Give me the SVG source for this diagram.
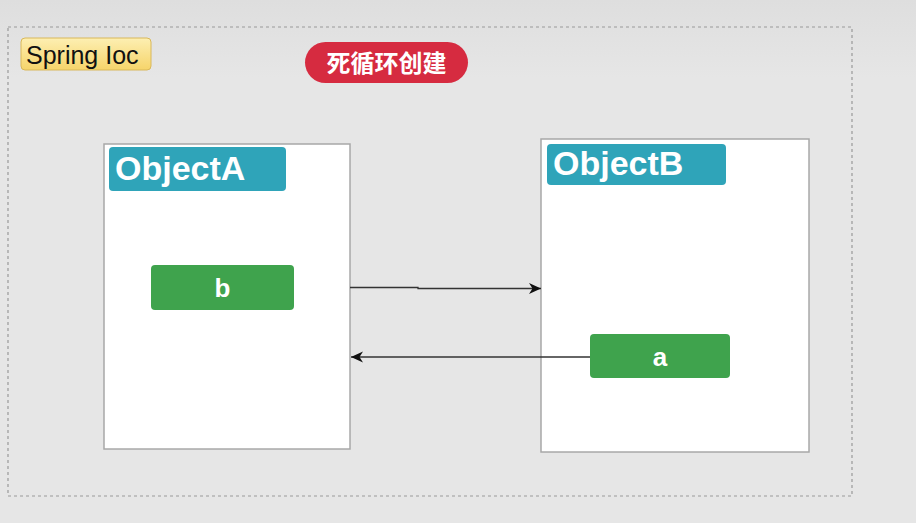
<svg xmlns="http://www.w3.org/2000/svg" width="916" height="523" viewBox="0 0 916 523">
<defs>
<linearGradient id="bg" x1="0" y1="0" x2="0" y2="1">
<stop offset="0" stop-color="#dedede"/>
<stop offset="0.15" stop-color="#e6e6e6"/>
<stop offset="1" stop-color="#e6e6e6"/>
</linearGradient>
<linearGradient id="yel" x1="0" y1="0" x2="0" y2="1">
<stop offset="0" stop-color="#fdefb2"/>
<stop offset="1" stop-color="#f6d46a"/>
</linearGradient>
<marker id="arr" viewBox="0 0 12 12" refX="12" refY="6" markerWidth="12" markerHeight="12" markerUnits="userSpaceOnUse" orient="auto">
<path d="M0,0.5 L12,6 L0,11.5 L3.5,6 Z" fill="#111"/>
</marker>
<style>
.obj{fill:#ffffff;stroke:#a8a8a8;stroke-width:1.5}
.hdr{fill:#2fa4b9}
.hdrt{font-family:"Liberation Sans",Arial,sans-serif;font-weight:bold;font-size:34px;fill:#ffffff}
.fld{fill:#3fa34d}
.fldt{font-family:"Liberation Sans",Arial,sans-serif;font-weight:bold;font-size:26px;fill:#ffffff;text-anchor:middle}
.conn{stroke:#333333;stroke-width:1.3;fill:none}
</style>
</defs>
<rect x="0" y="0" width="916" height="523" fill="url(#bg)"/>
<g id="container">
<rect x="8" y="27" width="844" height="469" fill="none" stroke="#999999" stroke-width="1.2" stroke-dasharray="3,3"/>
</g>
<g id="spring-ioc">
<rect x="21" y="38" width="130" height="32" rx="4" fill="url(#yel)" stroke="#d9b85a" stroke-width="1"/>
<text x="26" y="64" font-family="'Liberation Sans',Arial,sans-serif" font-size="25" fill="#111111">Spring Ioc</text>
</g>
<g id="title">
<rect x="305" y="42" width="163" height="41" rx="20.5" fill="#d62b40"/>
<text x="386.5" y="72" font-family="'Noto Sans CJK SC',sans-serif" font-weight="bold" font-size="24" fill="#ffffff" text-anchor="middle">死循环创建</text>
</g>
<g id="objectA">
<rect class="obj" x="104" y="144" width="246" height="305"/>
<rect class="hdr" x="109" y="147" width="177" height="44" rx="4"/>
<text class="hdrt" x="115" y="180">ObjectA</text>
</g>
<g id="objectB">
<rect class="obj" x="541" y="139" width="268" height="313"/>
<rect class="hdr" x="547" y="144" width="179" height="41" rx="4"/>
<text class="hdrt" x="553" y="175">ObjectB</text>
</g>
<g id="field-b">
<rect class="fld" x="151" y="265" width="143" height="45" rx="4"/>
<text class="fldt" x="222.5" y="297">b</text>
</g>
<g id="field-a">
<rect class="fld" x="590" y="334" width="140" height="44" rx="4"/>
<text class="fldt" x="660" y="366">a</text>
</g>
<g id="connectors">
<path class="conn" d="M350,287.5 L418,287.5 L418,288.5 L541,288.5" marker-end="url(#arr)"/>
<path class="conn" d="M590,357 L351,357" marker-end="url(#arr)"/>
</g>
</svg>
